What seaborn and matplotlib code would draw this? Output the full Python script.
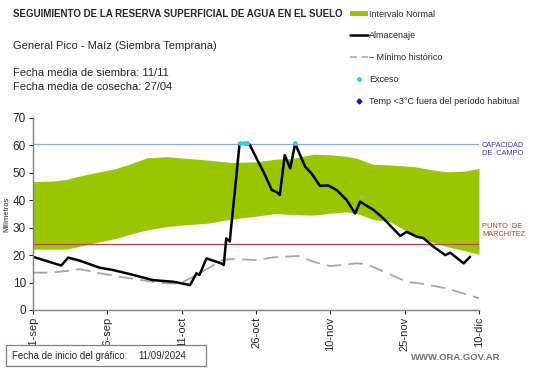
import matplotlib
matplotlib.use("Agg")
import matplotlib.pyplot as plt
import seaborn as sns
import pandas as pd
from matplotlib.lines import Line2D
from matplotlib.patches import Patch, Rectangle

# === Datos (días desde 11/09/2024) ===
banda_dias = [0, 4, 6.7, 8.8, 13.5, 16.8, 20, 23, 27, 31, 35, 40, 45, 49, 52.5, 56.6, 60, 63.3,
              65.3, 68.7, 72, 76.8, 80.2, 83.5, 86.8, 90]
banda_sup = [46.8, 47, 47.6, 48.6, 50.4, 51.6, 53.5, 55.5, 55.9, 55.3, 54.7, 53.8, 54, 55, 55.3,
             56.8, 56.6, 56, 55.3, 53.1, 52.9, 52.3, 51.2, 50.4, 50.6, 51.6]
banda_inf = [22.2, 22.2, 22.2, 23, 24.9, 26.1, 27.8, 29.2, 30.4, 31.1, 31.6, 33.1, 34.2, 35.2, 34.8,
             34.6, 35.3, 35.8, 35.2, 33, 32.2, 27.3, 24.9, 23.1, 21.8, 20.3]

alm_dias = [0, 5.7, 7.1, 9.4, 13.5, 16.1, 20.2, 24.2, 28.3, 31.7, 33, 33.6, 35, 38, 38.5, 39, 39.7,
            41.7, 42.5, 43.7, 45.1, 46.5, 48.2, 49.2, 49.8, 50.8, 51.9, 52.9, 54.9, 56.2, 57.9,
            59.6, 61.3, 63.3, 65, 66, 68.7, 70.7, 74.1, 75.4, 77.5, 78.8, 80.8, 83.2, 84.2, 86.9, 88.2]
alm_vals = [19.4, 16.2, 19.1, 18, 15.4, 14.6, 12.8, 10.9, 10.3, 9.1, 13.4, 12.8, 18.8, 17, 16.4,
            26.1, 25, 60.8, 60.6, 60.4, 55.3, 50.4, 43.7, 43, 41.9, 56.5, 51.6, 60.6, 52.3, 49.8,
            45.3, 45.4, 43.7, 40.1, 35.2, 39.5, 36.5, 33.4, 27, 28.5, 26.7, 26.2, 23.1, 20, 20.9,
            17, 19.4]

min_dias = [0, 3.4, 6.7, 9.4, 13.5, 17.6, 22.9, 27, 29.7, 33.7, 38.1, 40.4, 45.1, 48.5, 53.5,
            56.6, 60, 65.3, 67.3, 70, 75.4, 78.8, 83.5, 90]
min_vals = [13.6, 13.6, 14.2, 14.9, 13.4, 12.1, 10.6, 9.7, 9.7, 13.4, 18.2, 18.6, 18.2, 19.2, 19.7,
            17.6, 16, 17, 16.7, 14.6, 10.3, 9.5, 7.9, 4.3]

exceso_dias = [41.7, 42.5, 43.2, 52.9]
exceso_vals = [61, 61, 61, 61]

tick_dias = [0, 15, 30, 45, 60, 75, 90]
tick_labels = ["11-sep", "26-sep", "11-oct", "26-oct", "10-nov", "25-nov", "10-dic"]

capacidad_campo = 60.7
punto_marchitez = 24.2

VERDE = "#99c600"

# === Figura ===
sns.set_style("white")
plt.rcParams["font.family"] = ["Liberation Sans", "DejaVu Sans"]

fig = plt.figure(figsize=(5.41, 3.68), dpi=100)
ax = fig.add_axes([33 / 541, 1 - 310 / 368, (479 - 33) / 541, (310 - 118) / 368])

ax.fill_between(banda_dias, banda_inf, banda_sup, color=VERDE, linewidth=0)
ax.axhline(capacidad_campo, color="#8faadc", linewidth=0.9)
ax.axhline(punto_marchitez, color="#b0504c", linewidth=0.9)

df_min = pd.DataFrame({"dia": min_dias, "mm": min_vals})
sns.lineplot(data=df_min, x="dia", y="mm", ax=ax, color="#a6a6a6", linewidth=1.3,
             linestyle=(0, (8, 4)))
df_alm = pd.DataFrame({"dia": alm_dias, "mm": alm_vals})
sns.lineplot(data=df_alm, x="dia", y="mm", ax=ax, color="black", linewidth=1.8)
ax.scatter(exceso_dias, exceso_vals, color="#33ccdd", s=6, zorder=5)

ax.set_xlim(0, 90)
ax.set_ylim(0, 70)
ax.set_yticks(range(0, 71, 10))
ax.set_xticks(tick_dias)
ax.set_xticklabels(tick_labels, rotation=90, fontsize=8)
ax.tick_params(axis="y", labelsize=8.5, length=3, direction="out", left=True, pad=2)
ax.tick_params(axis="x", length=3, direction="out", bottom=True, pad=2)
ax.set_xlabel("")
ax.set_ylabel("Milímetros", fontsize=5.5, labelpad=2)
sns.despine(ax=ax)
for s in ["left", "bottom"]:
    ax.spines[s].set_color("#808080")
    ax.spines[s].set_linewidth(1)

# === Textos ===
fig.text(13 / 541, 1 - 14 / 368, "SEGUIMIENTO DE LA RESERVA SUPERFICIAL DE AGUA EN EL SUELO",
         fontsize=7.0, fontweight="bold", va="center")
fig.text(13 / 541, 1 - 46 / 368, "General Pico - Maíz (Siembra Temprana)", fontsize=8, va="center")
fig.text(13 / 541, 1 - 73 / 368, "Fecha media de siembra: 11/11", fontsize=8, va="center")
fig.text(13 / 541, 1 - 87 / 368, "Fecha media de cosecha: 27/04", fontsize=8, va="center")

fig.text(482 / 541, 1 - 150 / 368, "CAPACIDAD\nDE  CAMPO", fontsize=5.3, color="#3b3bb8",
         va="center", linespacing=1.2)
fig.text(482 / 541, 1 - 230 / 368, "PUNTO  DE\nMARCHITEZ", fontsize=5.3, color="#c0392b",
         va="center", linespacing=1.2)

fig.patches.append(Rectangle((6 / 541, 1 - 366 / 368), 200 / 541, 21 / 368, transform=fig.transFigure,
                             facecolor="white", edgecolor="#8c7a7a", linewidth=0.9))
fig.text(12 / 541, 1 - 356 / 368, "Fecha de inicio del gráfico:", fontsize=7, va="center")
fig.text(138 / 541, 1 - 356 / 368, "11/09/2024", fontsize=7, va="center")
fig.text(500 / 541, 1 - 358 / 368, "WWW.ORA.GOV.AR", fontsize=6.8, color="#707070",
         fontweight="bold", ha="right", va="center")

# === Leyenda ===
handles = [
    Patch(facecolor=VERDE, edgecolor="none"),
    Line2D([], [], color="black", linewidth=1.8),
    Line2D([], [], color="#a6a6a6", linewidth=1.2, linestyle=(0, (4, 3))),
    Line2D([], [], color="#33ccdd", marker="o", markersize=2.5, linestyle="none"),
    Line2D([], [], color="#1a1aa6", marker="D", markersize=2.5, linestyle="none"),
]
labels = ["Intervalo Normal", "Almacenaje", "– Mínimo histórico", "Exceso",
          "Temp <3°C fuera del período habitual"]
fig.legend(handles, labels, loc="upper left", bbox_to_anchor=(346 / 541, 1 - 6 / 368),
           frameon=False, fontsize=6.5, handlelength=2.0, handleheight=0.6, labelspacing=1.42,
           handletextpad=0.15, borderaxespad=0)

fig.savefig("out.png", dpi=100)
